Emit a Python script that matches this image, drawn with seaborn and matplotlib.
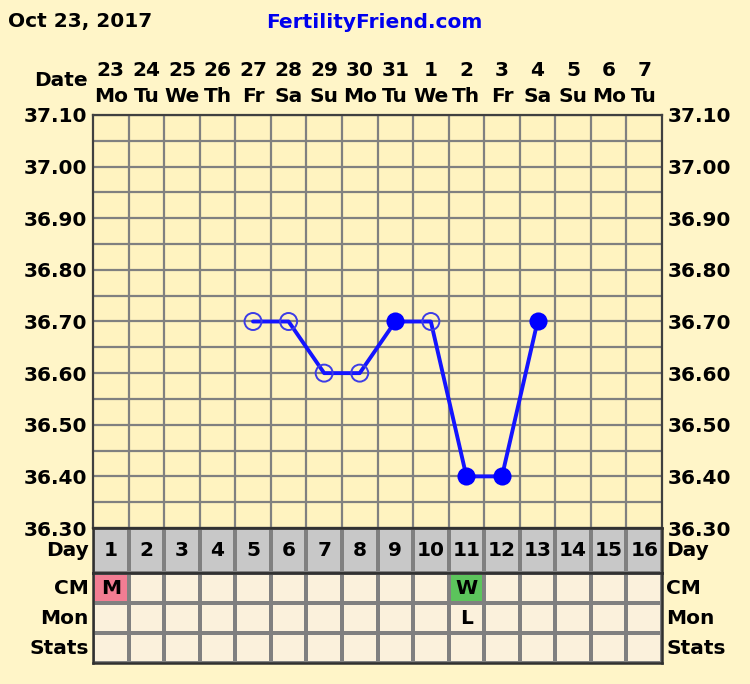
import numpy as np
import pandas as pd
import matplotlib.pyplot as plt
import matplotlib.transforms as mtransforms
from matplotlib.colors import ListedColormap
import seaborn as sns

# --- data ---
days = list(range(1, 17))
dates = ['23', '24', '25', '26', '27', '28', '29', '30', '31', '1', '2', '3', '4', '5', '6', '7']
weekdays = ['Mo', 'Tu', 'We', 'Th', 'Fr', 'Sa', 'Su', 'Mo', 'Tu', 'We', 'Th', 'Fr', 'Sa', 'Su', 'Mo', 'Tu']
temp_days = [5, 6, 7, 8, 9, 10, 11, 12, 13]
temps = [36.70, 36.70, 36.60, 36.60, 36.70, 36.70, 36.40, 36.40, 36.70]
filled = [False, False, False, False, True, False, True, True, True]
y_labels = [37.10, 37.00, 36.90, 36.80, 36.70, 36.60, 36.50, 36.40, 36.30]
row_names = ['CM', 'Mon', 'Stats']
cm_row = ['M', '', '', '', '', '', '', '', '', '', 'W', '', '', '', '', '']
mon_row = ['', '', '', '', '', '', '', '', '', '', 'L', '', '', '', '', '']
stats_row = [''] * 16
cm_code = [1, 0, 0, 0, 0, 0, 0, 0, 0, 0, 2, 0, 0, 0, 0, 0]

BG = '#FFF5C8'
PLOT_BG = '#FFF3C0'
GRID = '#808080'
FONT = dict(family='DejaVu Sans', weight='bold', size=14.5, color='black')

sns.set_theme(style='white')
plt.rcParams['font.family'] = ['DejaVu Sans']
plt.rcParams['text.color'] = 'black'

W, H = 750, 684
fig = plt.figure(figsize=(W / 100, H / 100), dpi=100, facecolor=BG)

def rect(x0, y0, x1, y1):
    return [x0 / W, 1 - y1 / H, (x1 - x0) / W, (y1 - y0) / H]

# --- temperature chart ---
ax = fig.add_axes(rect(93, 115, 662, 528))
ax.set_facecolor(PLOT_BG)
ax.set_xlim(0.5, 16.5)
ax.set_ylim(36.30, 37.10)
ax.set_xticks(np.arange(1.5, 16.5, 1))
ax.set_xticklabels([])
ax.set_yticks(y_labels)
ax.set_yticklabels([f'{v:.2f}' for v in y_labels])
ax.set_yticks(np.arange(36.35, 37.10, 0.1), minor=True)
ax.grid(which='both', color=GRID, lw=1.6)
ax.tick_params(which='both', length=0, labelright=True, pad=4, labelcolor='black')
for lab in ax.get_yticklabels():
    lab.set_fontproperties(dict(family='DejaVu Sans', weight='bold', size=14.5))
for sp in ax.spines.values():
    sp.set_color('#404040')
    sp.set_linewidth(1.6)
ax.set_axisbelow(True)

df = pd.DataFrame({'day': temp_days, 'temp': temps, 'filled': filled})
sns.lineplot(data=df, x='day', y='temp', color='#1414FF', lw=2.8, ax=ax, zorder=3)
sns.scatterplot(data=df[~df['filled']], x='day', y='temp', s=150, facecolor='none',
                edgecolor='#3C3CE6', linewidth=1.4, ax=ax, zorder=4)
sns.scatterplot(data=df[df['filled']], x='day', y='temp', s=170, color='#0000FF',
                edgecolor='#0000FF', linewidth=0, ax=ax, zorder=4)
ax.set_xlabel('')
ax.set_ylabel('')

# date header
trans = mtransforms.blended_transform_factory(ax.transData, ax.transAxes)
for d, dt, wd in zip(days, dates, weekdays):
    ax.text(d, (528 - 70) / 413, dt, transform=trans, ha='center', va='center', **FONT)
    ax.text(d, (528 - 96) / 413, wd, transform=trans, ha='center', va='center', **FONT)
fig.text(88 / W, 1 - 81 / H, 'Date', ha='right', va='center', **FONT)

# title
fig.text(8 / W, 1 - 22 / H, 'Oct 23, 2017', ha='left', va='center', **FONT)
title_font = dict(FONT, color='#0000EE')
fig.text(374 / W, 1 - 22 / H, 'FertilityFriend.com', ha='center', va='center', **title_font)

# --- day row ---
ax_day = fig.add_axes(rect(93, 528, 662, 573))
sns.heatmap(np.zeros((1, 16)), cmap=ListedColormap(['#C8C8C8']), cbar=False,
            annot=np.array([[str(d) for d in days]]), fmt='',
            annot_kws=FONT,
            linewidths=1.6, linecolor=GRID, xticklabels=False, yticklabels=False, ax=ax_day)
ax_day.text(-0.12, 0.5, 'Day', ha='right', va='center', **FONT)
ax_day.text(16.12, 0.5, 'Day', ha='left', va='center', **FONT)

# --- CM / Mon / Stats rows ---
ax_tab = fig.add_axes(rect(93, 573, 662, 663))
codes = np.array([cm_code, [0] * 16, [0] * 16])
annot = np.array([cm_row, mon_row, stats_row])
sns.heatmap(codes, cmap=ListedColormap(['#FBF1DC', '#F27D93', '#5CC45C']), vmin=0, vmax=2,
            cbar=False, annot=annot, fmt='', annot_kws=FONT,
            linewidths=1.6, linecolor=GRID, xticklabels=False, yticklabels=False, ax=ax_tab)
for i, name in enumerate(row_names):
    ax_tab.text(-0.12, i + 0.5, name, ha='right', va='center', **FONT)
    ax_tab.text(16.12, i + 0.5, name, ha='left', va='center', **FONT)

for a in (ax_day, ax_tab):
    for sp in a.spines.values():
        sp.set_visible(True)
        sp.set_color('#303030')
        sp.set_linewidth(1.8)

fig.savefig('out.png', dpi=100, facecolor=BG)
